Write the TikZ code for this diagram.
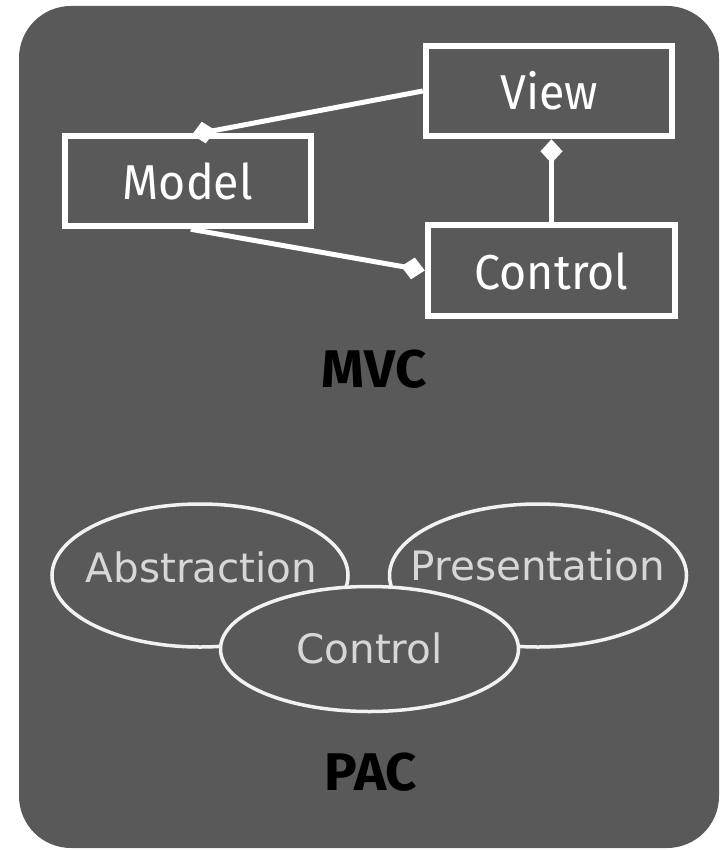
\documentclass[tikz,border=0pt]{standalone}
\usepackage{fontspec}
\usetikzlibrary{shapes.geometric,arrows.meta,calc}
\newfontfamily\boxfont{Fira Sans}[FakeStretch=0.95]
\newfontfamily\labfont{Fira Sans}[FakeStretch=1.03]
\newfontfamily\pacfont{DejaVu Sans}
\definecolor{bgc}{RGB}{89,89,89}
\definecolor{pactxt}{RGB}{215,215,215}
\definecolor{ellc}{RGB}{242,242,242}
\begin{document}
\begin{tikzpicture}[x=1pt,y=-1pt,
  mvcbox/.style={draw=white, line width=6.5pt, rectangle, inner sep=0pt, text=white,
    font=\boxfont\fontsize{49}{52}\selectfont, text height=38pt, text depth=0pt},
  conn/.style={draw=white, line width=5pt, -{Diamond[length=24pt,width=22pt]}},
  lab/.style={text=black, font=\labfont\bfseries\fontsize{53}{56}\selectfont, inner sep=0pt},
  ell/.style={draw=ellc, line width=3.5pt, ellipse, inner sep=0pt},
  pactext/.style={text=pactxt, font=\pacfont\fontsize{40.5}{44}\selectfont, inner sep=0pt}
]
\useasboundingbox (0,0) rectangle (721,850);
\fill[bgc, rounded corners=52pt] (19,6) rectangle (719,848);

% MVC
\node[mvcbox, minimum width=246pt, minimum height=90pt] (model) at (187.75,181) {Model};
\node[mvcbox, minimum width=246pt, minimum height=90pt] (view) at (549,91) {View};
\node[mvcbox, minimum width=247pt, minimum height=91pt] (control) at (551.5,270.5) {Control};

\draw[conn, shorten >=-11pt] (view.west) -- ($(model.north)+(15,0)$);
\draw[conn] ($(model.south)+(3,0)$) -- (control.west);
\draw[conn] (control.north) -- (control.north |- view.south);

\node[lab, anchor=base] (mvc) at (374,387) {MVC};

% PAC
\node[ell, minimum width=296pt, minimum height=143pt] (abs) at (200,575.5) {};
\node[ell, minimum width=297pt, minimum height=143pt] (pres) at (538,575.5) {};
\node[ell, fill=bgc, minimum width=298pt, minimum height=125pt] (pctl) at (369.5,649) {};

\node[pactext, anchor=base] (abst) at ($(abs.center)+(1.5,6.5)$) {Abstraction};
\node[pactext, anchor=base] (prest) at ($(pres.center)+(0,4.5)$) {Presentation};
\node[pactext, anchor=base] (pctlt) at ($(pctl.center)+(0,14)$) {Control};

\node[lab, anchor=base] (pac) at (371,790) {PAC};
\end{tikzpicture}
\end{document}
